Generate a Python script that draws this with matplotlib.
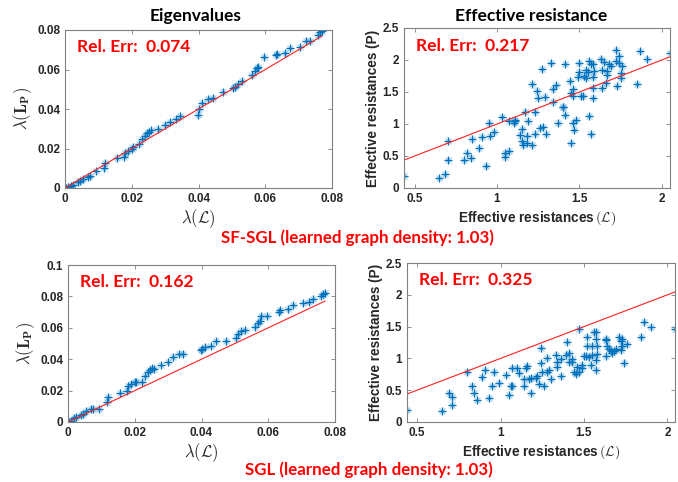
import matplotlib
matplotlib.use('Agg')
import matplotlib.pyplot as plt
from matplotlib.ticker import FuncFormatter

# eigenvalues of the original graph (x) and of the learned graphs (y)
eig_x = [0.0002, 0.0008, 0.0017, 0.0023, 0.0040, 0.0045, 0.0055, 0.0070, 0.0075, 0.0093,
         0.0118, 0.0121, 0.0157, 0.0177, 0.0180, 0.0190, 0.0200, 0.0204, 0.0222, 0.0232,
         0.0239, 0.0246, 0.0252, 0.0259, 0.0279, 0.0299, 0.0314, 0.0334, 0.0344, 0.0399,
         0.0401, 0.0410, 0.0429, 0.0444, 0.0474, 0.0504, 0.0509, 0.0519, 0.0529, 0.0559,
         0.0569, 0.0574, 0.0579, 0.0597, 0.0633, 0.0635, 0.0658, 0.0673, 0.0703, 0.0721,
         0.0735, 0.0758, 0.0765, 0.0770]
eig_sfsgl = [0.0000, 0.0003, 0.0010, 0.0015, 0.0032, 0.0037, 0.0045, 0.0054, 0.0062, 0.0086,
             0.0099, 0.0129, 0.0153, 0.0159, 0.0176, 0.0188, 0.0200, 0.0206, 0.0223, 0.0247,
             0.0263, 0.0277, 0.0285, 0.0294, 0.0297, 0.0317, 0.0335, 0.0347, 0.0364, 0.0372,
             0.0398, 0.0431, 0.0451, 0.0455, 0.0486, 0.0505, 0.0512, 0.0528, 0.0542, 0.0572,
             0.0590, 0.0606, 0.0612, 0.0661, 0.0671, 0.0679, 0.0686, 0.0711, 0.0713, 0.0745,
             0.0746, 0.0777, 0.0790, 0.0795]
eig_sgl = [0.0000, 0.0004, 0.0025, 0.0030, 0.0042, 0.0053, 0.0069, 0.0080, 0.0084, 0.0084,
           0.0126, 0.0158, 0.0185, 0.0200, 0.0232, 0.0242, 0.0253, 0.0257, 0.0257, 0.0290,
           0.0320, 0.0330, 0.0347, 0.0340, 0.0362, 0.0383, 0.0417, 0.0430, 0.0436, 0.0459,
           0.0463, 0.0478, 0.0484, 0.0516, 0.0518, 0.0537, 0.0558, 0.0579, 0.0585, 0.0606,
           0.0632, 0.0646, 0.0674, 0.0678, 0.0699, 0.0716, 0.0722, 0.0747, 0.0758, 0.0762,
           0.0785, 0.0804, 0.0815, 0.0821]

# effective resistances, SF-SGL panel
er1_x = [0.435, 0.65, 0.686, 0.70, 0.70, 0.80, 0.82, 0.84, 0.85, 0.89, 0.91, 0.93, 0.95, 0.96,
         0.98, 1.03, 1.05, 1.05, 1.07, 1.07, 1.10, 1.11, 1.11, 1.14, 1.15, 1.15, 1.16, 1.17,
         1.18, 1.18, 1.19, 1.21, 1.21, 1.23, 1.23, 1.24, 1.25, 1.26, 1.27, 1.28, 1.29, 1.30,
         1.33, 1.34, 1.34, 1.36, 1.37, 1.40, 1.40, 1.41, 1.41, 1.44, 1.45, 1.45, 1.46, 1.46,
         1.47, 1.48, 1.46, 1.49, 1.50, 1.50, 1.51, 1.52, 1.53, 1.54, 1.54, 1.55, 1.56, 1.56,
         1.57, 1.57, 1.58, 1.58, 1.58, 1.58, 1.59, 1.63, 1.64, 1.64, 1.65, 1.66, 1.67, 1.67,
         1.68, 1.69, 1.72, 1.72, 1.73, 1.74, 1.74, 1.75, 1.75, 1.76, 1.85, 1.87, 1.91, 2.05]
er1_y = [0.19, 0.15, 0.22, 0.44, 0.74, 0.44, 0.54, 0.47, 0.76, 0.63, 0.80, 0.35, 1.02, 0.81,
         0.88, 1.11, 0.54, 0.49, 0.58, 1.05, 1.01, 1.05, 1.06, 0.83, 0.92, 0.74, 0.67, 1.18,
         0.82, 0.71, 1.05, 0.67, 1.62, 0.84, 1.19, 1.51, 1.40, 0.93, 1.86, 0.95, 1.42, 0.84,
         1.95, 1.55, 1.34, 1.61, 1.02, 1.27, 1.26, 1.93, 1.14, 1.67, 0.71, 1.49, 1.55, 1.02,
         0.90, 1.07, 1.44, 1.73, 1.81, 1.95, 1.44, 1.43, 1.75, 1.85, 1.72, 1.81, 1.98, 1.12,
         0.85, 1.93, 1.93, 1.73, 1.57, 1.40, 1.83, 2.02, 1.57, 1.85, 1.97, 1.64, 1.83, 1.76,
         1.93, 1.90, 1.98, 2.15, 1.60, 1.96, 2.07, 1.80, 1.72, 1.90, 1.62, 2.14, 2.01, 2.11]

# effective resistances, SGL panel
er2_x = [0.44, 0.65, 0.69, 0.71, 0.71, 0.80, 0.83, 0.84, 0.86, 0.89, 0.91, 0.93, 0.95, 0.96,
         0.99, 1.03, 1.05, 1.06, 1.07, 1.07, 1.10, 1.11, 1.14, 1.14, 1.15, 1.16, 1.17, 1.18,
         1.18, 1.21, 1.22, 1.23, 1.24, 1.24, 1.25, 1.26, 1.28, 1.28, 1.29, 1.30, 1.33, 1.34,
         1.34, 1.36, 1.36, 1.39, 1.40, 1.41, 1.41, 1.43, 1.43, 1.44, 1.45, 1.46, 1.47, 1.47,
         1.49, 1.49, 1.50, 1.51, 1.52, 1.52, 1.53, 1.54, 1.55, 1.55, 1.56, 1.57, 1.57, 1.57,
         1.57, 1.58, 1.58, 1.63, 1.63, 1.63, 1.64, 1.65, 1.66, 1.67, 1.68, 1.69, 1.71, 1.72,
         1.72, 1.73, 1.73, 1.74, 1.76, 1.84, 1.86, 1.90, 2.045]
er2_y = [0.19, 0.17, 0.45, 0.40, 0.27, 0.78, 0.56, 0.46, 0.35, 0.71, 0.82, 0.38, 0.56, 0.78,
         0.61, 0.74, 0.43, 0.56, 0.85, 0.56, 0.85, 0.77, 0.56, 0.68, 0.85, 0.88, 0.68, 0.46,
         0.69, 0.69, 0.72, 0.60, 0.93, 1.16, 0.78, 0.56, 1.01, 0.78, 0.82, 0.68, 1.06, 0.94,
         0.86, 0.72, 0.99, 1.06, 1.26, 1.08, 0.94, 0.99, 0.94, 0.78, 0.76, 0.86, 1.46, 0.78,
         0.85, 0.90, 1.04, 1.03, 1.34, 1.19, 1.02, 0.90, 1.19, 1.06, 1.42, 0.81, 0.97, 1.41,
         1.30, 1.19, 1.07, 1.30, 1.03, 1.29, 1.20, 1.14, 1.11, 1.09, 1.11, 1.14, 1.33, 1.28,
         1.13, 1.30, 1.19, 0.93, 1.23, 1.33, 1.58, 1.50, 1.46]

rel_err = ['0.074', '0.217', '0.162', '0.325']
eig_ticks = [0, 0.02, 0.04, 0.06, 0.08]
eig_ticks2 = [0, 0.02, 0.04, 0.06, 0.08, 0.1]
er_xticks = [0.5, 1, 1.5, 2]
er_yticks = [0, 0.5, 1, 1.5, 2, 2.5]

blue = '#0072BD'
calibri = ['Lato', 'DejaVu Sans']
plt.rcParams['font.family'] = ['Liberation Sans', 'DejaVu Sans']
plt.rcParams['mathtext.fontset'] = 'cm'

fig = plt.figure(figsize=(6.78, 4.82), dpi=100)
ax1 = fig.add_axes([65/678, 1-188/482, 267/678, 158/482])
ax2 = fig.add_axes([404/678, 1-188/482, 266/678, 160/482])
ax3 = fig.add_axes([68/678, 1-422/482, 267/678, 157/482])
ax4 = fig.add_axes([407/678, 1-422/482, 268/678, 159/482])

fmt = FuncFormatter(lambda v, p: '%g' % round(v, 4))


def scatter(ax, x, y):
    ax.plot(x, y, linestyle='none', marker='x', color=blue, ms=3.8, mew=0.8, alpha=0.35)
    ax.plot(x, y, linestyle='none', marker='+', color=blue, ms=5.5, mew=1.0)
    lo, hi = min(x), max(x)
    ax.plot([lo, hi], [lo, hi], color='#ff2020', lw=0.8)


def style(ax):
    ax.tick_params(direction='in', top=True, right=True, length=3, width=0.6,
                   colors='#808080', labelcolor='#262626', labelsize=8.5)
    for lab in ax.get_xticklabels() + ax.get_yticklabels():
        lab.set_fontweight('bold')
    for s in ax.spines.values():
        s.set_color('#808080')
        s.set_linewidth(0.8)
    ax.xaxis.set_major_formatter(fmt)
    ax.yaxis.set_major_formatter(fmt)


scatter(ax1, eig_x, eig_sfsgl)
ax1.set_xlim(0, 0.08)
ax1.set_ylim(0, 0.08)
ax1.set_xticks(eig_ticks)
ax1.set_yticks(eig_ticks)

scatter(ax3, eig_x, eig_sgl)
ax3.set_xlim(0, 0.08)
ax3.set_ylim(0, 0.1)
ax3.set_xticks(eig_ticks)
ax3.set_yticks(eig_ticks2)

scatter(ax2, er1_x, er1_y)
ax2.set_xlim(min(er1_x), max(er1_x))
ax2.set_ylim(0, 2.5)
ax2.set_xticks(er_xticks)
ax2.set_yticks(er_yticks)

scatter(ax4, er2_x, er2_y)
ax4.set_xlim(min(er2_x), max(er2_x))
ax4.set_ylim(0, 2.5)
ax4.set_xticks(er_xticks)
ax4.set_yticks(er_yticks)

for ax, err in zip([ax1, ax2, ax3, ax4], rel_err):
    style(ax)
    ax.text(0.045, 0.89, 'Rel. Err:  ' + err, transform=ax.transAxes, color='#ff0000',
            fontsize=12.5, fontweight='bold', family=calibri, va='center')

for ax in [ax1, ax3]:
    ax.set_xlabel(r'$\lambda(\mathcal{L})$', fontsize=12, color='#262626', labelpad=2)
    ax.set_ylabel(r'$\lambda(\mathbf{L_P})$', fontsize=12, color='#262626', labelpad=2)
for ax in [ax2, ax4]:
    ax.set_xlabel(r'Effective resistances$\,(\mathcal{L})$', fontsize=9.8, fontweight='bold',
                  color='#262626', labelpad=3)
    ax.set_ylabel('Effective resistances (P)', fontsize=9.8, fontweight='bold',
                  color='#262626', labelpad=2)

fig.text(196/678, 1-16/482, 'Eigenvalues', ha='center', va='center', fontsize=12.5,
         fontweight='bold', family=calibri)
fig.text(531/678, 1-16/482, 'Effective resistance', ha='center', va='center', fontsize=12.5,
         fontweight='bold', family=calibri)
fig.text(357/678, 1-238/482, 'SF-SGL (learned graph density: 1.03)', ha='center', va='center',
         fontsize=12.2, fontweight='bold', color='#ff0000', family=calibri)
fig.text(369/678, 1-470/482, 'SGL (learned graph density: 1.03)', ha='center', va='center',
         fontsize=12.2, fontweight='bold', color='#ff0000', family=calibri)

fig.savefig('out.png', dpi=100)
